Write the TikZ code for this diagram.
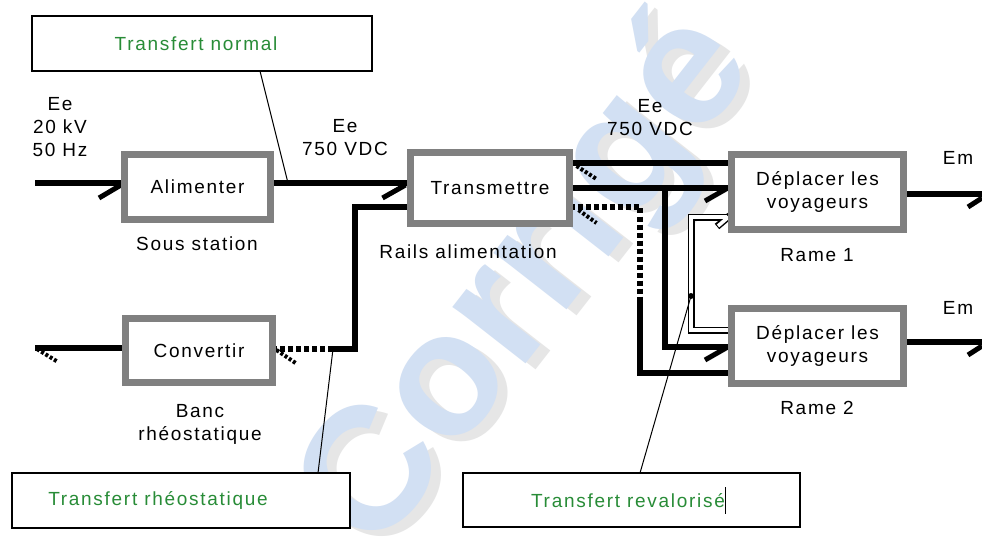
\documentclass[tikz,border=0pt]{standalone}
\usepackage{fontspec}
\setmainfont{Liberation Sans}[LetterSpace=9]
\newfontfamily\wmfont{Liberation Sans}
\definecolor{boxgray}{RGB}{128,128,128}
\definecolor{txtgreen}{RGB}{40,140,55}
\definecolor{wmblue}{RGB}{210,224,243}
\definecolor{wmgray}{RGB}{230,230,230}
\pgfdeclarelayer{wm}\pgfdeclarelayer{bg}\pgfsetlayers{wm,bg,main}
\begin{document}
\begin{tikzpicture}[x=1pt,y=-1pt,
  every node/.style={font=\fontsize{19}{23}\selectfont, inner sep=0pt, outer sep=0pt},
  block/.style={draw=boxgray, line width=7pt, fill=white, align=center},
  callbox/.style={draw=black, line width=1.3pt, fill=white, text=txtgreen},
  pw/.style={line width=6pt},
  barb/.style={line width=5pt},
  dotw/.style={line width=6pt, dash pattern=on 5pt off 3pt},
  dotbarb/.style={line width=4pt, dash pattern=on 3pt off 2pt},
  call/.style={line width=1pt},
  hollowo/.style={line width=7pt, line join=miter},
  hollowi/.style={line width=3.6pt, white, line join=miter},
  wmtext/.style={rotate=52, font=\wmfont\bfseries\fontsize{175}{175}\selectfont},
  lab/.style={align=center}]
\useasboundingbox (0,0) rectangle (982,540);

% watermark
\begin{pgfonlayer}{wm}
\fill[white] (0,0) rectangle (982,540);
\begin{scope}
\clip (0,0) rectangle (982,540);
\node[wmtext, text=wmgray] (wm2) at (540,290) {Corrigé};
\node[wmtext, text=wmblue] (wm1) at (530,284) {Corrigé};
\end{scope}
\end{pgfonlayer}

% blocks
\node[block, minimum width=146pt, minimum height=65pt] (alim) at (197.5,187) {Alimenter};
\node[block, minimum width=159pt, minimum height=71pt] (trans) at (490,188) {Transmettre};
\node[block, minimum width=147pt, minimum height=64pt] (conv) at (199,350.5) {Convertir};
\node[block, minimum width=172pt, minimum height=75pt] (r1) at (817.5,192) {Déplacer les\\voyageurs};
\node[block, minimum width=172pt, minimum height=75pt] (r2) at (817.5,346) {Déplacer les\\voyageurs};

% callout boxes
\node[callbox, minimum width=340pt, minimum height=55pt] (tn) at (202,43.5) {Transfert normal\hspace*{12pt}};
\node[callbox, minimum width=338pt, minimum height=55pt] (rh) at (181,500.5) {Transfert rhéostatique\hspace*{46pt}};
\node[callbox, minimum width=337pt, minimum height=54pt] (rv) at (631.5,500) {Transfert revalorisé{\color{black}\rule[-6pt]{1pt}{27pt}}\hspace*{6pt}};

% labels
\node[lab] (l1) at (60,127) {Ee\\20 kV\\50 Hz};
\node[lab] (l2) at (345,137.5) {Ee\\750 VDC};
\node[lab] (l3) at (650,117.5) {Ee\\750 VDC};
\node (l4) at (197,244) {Sous station};
\node (l5) at (468,252) {Rails alimentation};
\node[lab] (l6) at (200,424.5) {Banc\\rhéostatique};
\node (l7) at (817,255) {Rame 1};
\node (l8) at (817,408) {Rame 2};
\node (l9) at (958,158) {Em};
\node (l10) at (958,308) {Em};

\begin{pgfonlayer}{bg}
% coordinates
\coordinate (in1) at (35,183);
\coordinate (p1) at (288,183);
\coordinate (c1) at (355,207);
\coordinate (c2) at (355,349);
\coordinate (p2) at (333,349);
\coordinate (out0) at (35,348);
\coordinate (j1) at (665,188);
\coordinate (j2) at (665,347);
\coordinate (d1) at (640,207);
\coordinate (d2) at (640,298);
\coordinate (d3) at (640,373);
\coordinate (h1) at (691,330);
\coordinate (h2) at (691,217);
\coordinate (h3) at (729,217);
\coordinate (p3) at (691,296);
\coordinate (o1) at (982,194);
\coordinate (o2) at (982,342);

% input to Alimenter
\draw[pw] (in1) -- (alim.west |- in1);
\draw[barb] (alim.west |- in1) ++(-3.5,2) -- ++(-22,13);
% Alimenter -> Transmettre
\draw[pw] (alim.east |- in1) -- (trans.west |- in1);
\draw[barb] (trans.west |- in1) ++(-5,2) -- ++(-23,13);
% Transmettre -> Convertir
\draw[pw] (trans.west |- c1) -- (c1) -- (c2) -- (p2);
\draw[dotw] (p2) -- (conv.east |- p2);
\draw[dotbarb] (conv.east |- p2) ++(4,1) -- ++(19,13);
% Convertir -> out
\draw[pw] (conv.west |- out0) -- (out0);
\draw[dotbarb] (out0) ++(2,1) -- ++(21,13);
% Rame 1 -> Transmettre (top)
\draw[pw] (trans.east |- 0,163) -- (r1.west |- 0,163);
\draw[dotbarb] (trans.east |- 0,163) ++(7,3) -- ++(20,13);
% Transmettre -> Rame 1 / Rame 2
\draw[pw] (trans.east |- j1) -- (r1.west |- j1);
\draw[barb] (r1.west |- j1) ++(-5.5,1) -- ++(-21,12);
\draw[pw] (j1) -- (j2) -- (r2.west |- j2);
\draw[barb] (r2.west |- j2) ++(-5.5,1) -- ++(-21,12);
% Rame 2 -> Transmettre (bottom)
\draw[dotw] (trans.east |- d1) -- (d1) -- (d2);
\draw[pw] (d2) -- (d3) -- (r2.west |- d3);
\draw[dotbarb] (trans.east |- d1) ++(9,3) -- ++(18,13);
% revalorised transfer Rame 2 -> Rame 1 (hollow)
\draw[hollowo] (r2.west |- h1) -- (h1) -- (h2) -- (h3);
\draw[hollowo] (h3) ++(1,-1.5) -- ++(-13,11);
\draw[hollowi] (r2.west |- h1) -- (h1) -- (h2) -- ([xshift=-1.8pt]h3);
\draw[hollowi] (h3) ++(-0.5,0) -- ++(-10.5,9);
% outputs
\draw[pw] (r1.east |- o1) -- (o1);
\draw[barb] (o1) ++(0,4) -- ++(-14,9);
\draw[pw] (r2.east |- o2) -- (o2);
\draw[barb] (o2) ++(0,4) -- ++(-14,9);
% callouts
\draw[call] (tn.south -| 260,0) -- (p1);
\fill (p1) circle (2.5pt);
\draw[call] (rh.north -| 318,0) -- (p2);
\fill (p2) circle (2.5pt);
\draw[call] (rv.north -| 640,0) -- (p3);
\fill (p3) circle (3pt);
\end{pgfonlayer}
\end{tikzpicture}
\end{document}
